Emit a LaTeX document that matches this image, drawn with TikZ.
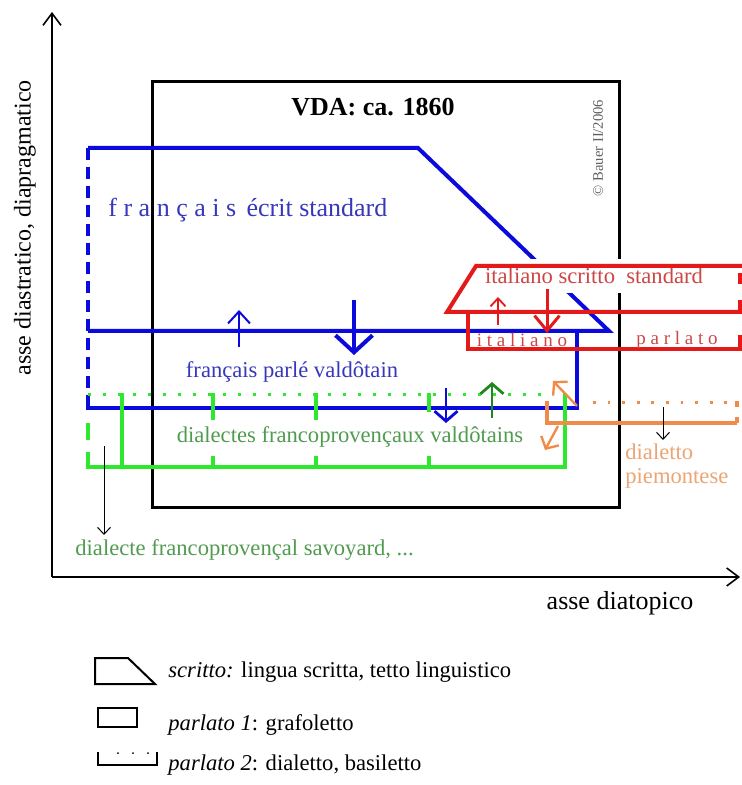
\documentclass[tikz,border=0pt]{standalone}
\usepackage{fontspec}
\setmainfont{Liberation Serif}
\usepackage{xcolor}
\usepackage{tikz}
\usetikzlibrary{arrows.meta}

\definecolor{lineblue}{RGB}{10,10,220}
\definecolor{textblue}{RGB}{55,55,190}
\definecolor{linegreen}{RGB}{45,232,45}
\definecolor{textgreen}{RGB}{80,155,80}
\definecolor{darkgreen}{RGB}{30,135,30}
\definecolor{linered}{RGB}{228,25,25}
\definecolor{textred}{RGB}{205,70,70}
\definecolor{lineorange}{RGB}{240,140,75}
\definecolor{textorange}{RGB}{235,165,115}
\definecolor{copygray}{RGB}{95,95,95}

\begin{document}
\begin{tikzpicture}[
    x=0.5pt, y=-0.5pt,
    lbl/.style={inner sep=0pt, font=\fontsize{11.3}{12}\selectfont},
    spaced/.style={inner sep=0pt, font=\fontsize{9.5}{11}\selectfont},
    frame/.style={draw=black, line width=1.5pt},
    blueline/.style={draw=lineblue, line width=2pt},
    greenline/.style={draw=linegreen, line width=2pt},
    redline/.style={draw=linered, line width=2pt},
    orangeline/.style={draw=lineorange, line width=2pt},
    dashedge/.style={dash pattern=on 6pt off 3.5pt},
    dotedge/.style={line width=1.5pt, dash pattern=on 1.5pt off 6pt},
    axis/.style={line width=0.8pt, -{Straight Barb[length=6pt, width=9pt]}},
    pointer/.style={line width=0.5pt, -{Straight Barb[length=3.5pt, width=6.5pt]}},
    bigarrow/.style={line width=2pt, -{Straight Barb[length=8.5pt, width=18.5pt]}},
    midarrow/.style={line width=1.4pt, -{Straight Barb[length=5pt, width=11.5pt]}},
    smallarrow/.style={line width=1pt, -{Straight Barb[length=6pt, width=11pt]}},
    tinyarrow/.style={line width=0.9pt, -{Straight Barb[length=4pt, width=7.5pt]}},
    swaparrow/.style={line width=1.2pt, -{Straight Barb[length=4.5pt, width=10pt]}},
    legend/.style={draw=black, line width=1pt}
  ]
    \useasboundingbox (0,0) rectangle (742,785);

    % axes
    \coordinate (orig) at (52,577);
    \coordinate (ytip) at (52,12);
    \coordinate (xtip) at (740,577);
    \draw[axis] (orig) -- (ytip);
    \draw[axis] (orig) -- (xtip);
    \node[inner sep=0pt, font=\fontsize{12}{13}\selectfont, rotate=90] (ylabel) at (25,228) {asse diastratico, diapragmatico};
    \node[inner sep=0pt, font=\fontsize{13}{14}\selectfont] (xlabel) at (620,603) {asse diatopico};

    % VDA frame
    \draw[frame] (152,82) rectangle (619,507);
    \node[inner sep=0pt, font=\fontsize{13}{14}\selectfont\bfseries] (vda) at (373,107) {VDA: ca. 1860};
    \node[inner sep=0pt, font=\fontsize{7.3}{8}\selectfont, text=copygray, rotate=90] (copyright) at (598,148) {© Bauer II/2006};

    % francais
    \draw[blueline] (88,148) -- (418,148) -- (609,331) -- (88,331);
    \draw[blueline, dashedge] (88,148) -- (88,398);
    \draw[blueline] (88,398) -- (88,408) -- (577,408) -- (577,331);
    \node[inner sep=0pt, font=\fontsize{13}{14}\selectfont, text=textblue, anchor=base west] (ecrit) at (108,217) {f r a n ç a i s\hspace{0.4em}écrit standard};
    \node[lbl, text=textblue] (parle) at (292,372) {français parlé valdôtain};
    \coordinate (bupA) at (239,347);
    \coordinate (bupB) at (239,310);
    \draw[smallarrow, lineblue] (bupA) -- (bupB);
    \coordinate (bdownA) at (354,300);
    \coordinate (bdownB) at (354,355);
    \draw[bigarrow, lineblue] (bdownA) -- (bdownB);
    \coordinate (bsmA) at (446,388);
    \coordinate (bsmB) at (446,423);
    \draw[midarrow, lineblue] (bsmA) -- (bsmB);

    % dialectes francoprovencaux
    \draw[linegreen, dotedge] (88,394) -- (552,394);
    \draw[greenline] (565,393) -- (565,467) -- (88,467) -- (88,452);
    \draw[greenline] (88,423) -- (88,440);
    \draw[greenline] (122,393) -- (122,467);
    \foreach \x/\y in {213/420, 316/420, 429/412} {
      \draw[greenline] (\x,393) -- (\x,\y);
      \draw[greenline] (\x,456) -- (\x,467);
    }
    \node[lbl, text=textgreen] (dialfp) at (350,437) {dialectes francoprovençaux valdôtains};
    \coordinate (gupA) at (492,418);
    \coordinate (gupB) at (492,382);
    \draw[midarrow, darkgreen] (gupA) -- (gupB);
    \coordinate (savA) at (104,446);
    \coordinate (savB) at (104,535);
    \draw[pointer] (savA) -- (savB);
    \node[lbl, text=textgreen, anchor=west] (savoyard) at (75,550) {dialecte francoprovençal savoyard, ...};

    % dialetto piemontese
    \draw[orangeline] (547,401) -- (547,423) -- (737,423);
    \draw[orangeline] (737,401) -- (737,407);
    \draw[orangeline] (737,417) -- (737,423);
    \draw[lineorange, dotedge, dash pattern=on 1.4pt off 5.9pt] (593,402) -- (735,402);
    \coordinate (oupA) at (577,406);
    \coordinate (oupB) at (553,381);
    \draw[swaparrow, lineorange] (oupA) -- (oupB);
    \coordinate (odnA) at (558,426);
    \coordinate (odnB) at (545,450);
    \draw[swaparrow, lineorange] (odnA) -- (odnB);
    \coordinate (piemA) at (663,407);
    \coordinate (piemB) at (663,440);
    \draw[pointer] (piemA) -- (piemB);
    \node[lbl, text=textorange, anchor=west, align=left] (piem) at (625,466) {dialetto\\piemontese};

    % italiano
    \node[lbl, text=textred, fill=white, inner xsep=2pt, inner ysep=4.5pt, anchor=base] (scrittoit) at (594,284) {italiano scritto\ \ standard};
    \draw[redline] (742,266) -- (476,266) -- (447,312) -- (742,312);
    \draw[redline] (740,273) -- (740,284);
    \draw[redline] (740,300) -- (740,312);
    \draw[redline] (742,349) -- (468,349) -- (468,312);
    \draw[redline] (740,335) -- (740,349);
    \node[spaced, text=textred] (italiano) at (522,340) {i t a l i a n o};
    \node[spaced, text=textred] (parlato) at (677,340) {p a r l a t o};
    \coordinate (rupA) at (498,325);
    \coordinate (rupB) at (498,297);
    \draw[tinyarrow, linered] (rupA) -- (rupB);
    \coordinate (rdnA) at (547,289);
    \coordinate (rdnB) at (547,333);
    \draw[line width=1.5pt, -{Straight Barb[length=7.5pt, width=12.5pt]}, linered] (rdnA) -- (rdnB);

    % legend
    \draw[legend] (95,658) -- (128,658) -- (155,684) -- (95,684) -- cycle;
    \node[lbl, anchor=west] (legscritto) at (168,672) {\textit{scritto:} lingua scritta, tetto linguistico};
    \draw[legend] (98,708) rectangle (137,727);
    \node[lbl, anchor=west] (legparlA) at (168,725) {\textit{parlato 1}: grafoletto};
    \draw[legend] (98,752) -- (98,765) -- (157,765) -- (157,752);
    \foreach \x in {118,133,148} \fill (\x,753) circle (0.5pt);
    \node[lbl, anchor=west] (legparlB) at (168,765) {\textit{parlato 2}: dialetto, basiletto};
  \end{tikzpicture}
\end{document}
